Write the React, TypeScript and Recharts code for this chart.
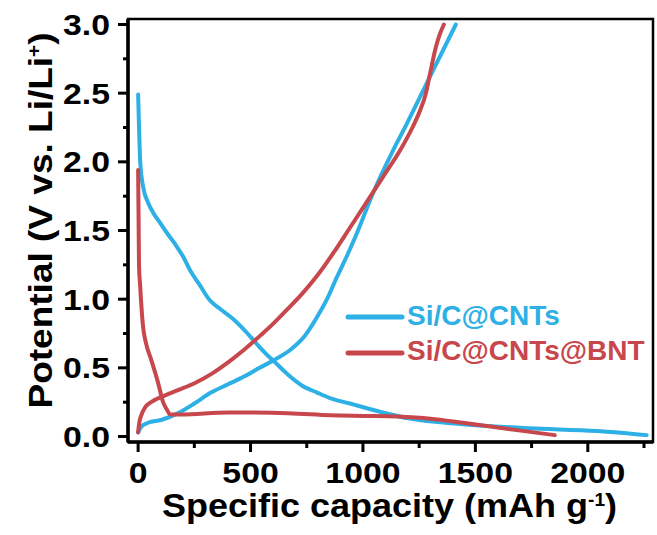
import React from "react";
import {
  LineChart,
  Line,
  XAxis,
  YAxis,
  Legend,
  ReferenceArea,
} from "recharts";

// ---- data ----
const blueDischargeX = [0, 5, 9, 22, 45, 67, 100, 129, 165, 200, 231, 275, 320, 364, 420, 476, 530, 570, 609, 667, 730, 796, 853, 942, 1076, 1209, 1444, 1742, 2040, 2262];
const blueDischargeY = [2.49, 2.2, 2.01, 1.82, 1.7, 1.63, 1.55, 1.48, 1.4, 1.31, 1.21, 1.1, 0.99, 0.93, 0.86, 0.77, 0.67, 0.6, 0.54, 0.45, 0.37, 0.32, 0.28, 0.24, 0.18, 0.13, 0.09, 0.06, 0.04, 0.01];

const blueChargeX = [0, 13, 44, 102, 178, 250, 324, 400, 476, 540, 609, 676, 740, 796, 840, 884, 930, 973, 1044, 1133, 1196, 1298, 1413];
const blueChargeY = [0.03, 0.07, 0.1, 0.12, 0.17, 0.24, 0.32, 0.38, 0.44, 0.5, 0.56, 0.63, 0.73, 0.87, 1.0, 1.16, 1.32, 1.48, 1.77, 2.08, 2.28, 2.62, 3.0];

const redDischargeX = [0, 2, 4, 9, 13, 22, 35, 58, 89, 111, 130, 142, 191, 400, 667, 853, 1000, 1151, 1300, 1444, 1667, 1853];
const redDischargeY = [1.94, 1.6, 1.24, 1.1, 0.99, 0.8, 0.68, 0.56, 0.39, 0.25, 0.19, 0.16, 0.16, 0.175, 0.17, 0.155, 0.15, 0.145, 0.13, 0.1, 0.05, 0.01];

const redChargeX = [0, 5, 13, 30, 58, 120, 180, 253, 330, 400, 470, 547, 600, 660, 730, 796, 870, 942, 1010, 1089, 1164, 1220, 1253, 1280, 1298, 1325, 1342, 1360];
const redChargeY = [0.03, 0.1, 0.15, 0.21, 0.25, 0.3, 0.34, 0.39, 0.46, 0.54, 0.63, 0.74, 0.82, 0.92, 1.04, 1.17, 1.34, 1.52, 1.69, 1.89, 2.08, 2.25, 2.37, 2.5, 2.64, 2.84, 2.93, 3.0];

const seriesNames = ["Si/C@CNTs", "Si/C@CNTs@BNT"];
const seriesColors = ["#2DB0E5", "#C8474C"];

const xTicks = [0, 250, 500, 750, 1000, 1250, 1500, 1750, 2000, 2250];
const yTicks = [0, 0.25, 0.5, 0.75, 1, 1.25, 1.5, 1.75, 2, 2.25, 2.5, 2.75, 3];
const xDomain = [-45, 2290];
const yDomain = [-0.04, 3.04];

const toPoints = (xs: number[], ys: number[]) => xs.map((x, i) => ({ x, y: ys[i] }));
const blueDischarge = toPoints(blueDischargeX, blueDischargeY);
const blueCharge = toPoints(blueChargeX, blueChargeY);
const redDischarge = toPoints(redDischargeX, redDischargeY);
const redCharge = toPoints(redChargeX, redChargeY);

const FONT = "'Liberation Sans', Arial, Helvetica, sans-serif";

const emWidth = (s: string) =>
  s.split("").reduce((a, c) => a + (c === "." ? 0.278 : 0.556), 0);

const XTick = (props: any) => {
  const { x, y, payload } = props;
  const v = payload.value;
  const major = v % 500 === 0;
  const label = String(v);
  return (
    <g>
      <line x1={x} x2={x} y1={y} y2={y + (major ? 10 : 6)} stroke="#000" strokeWidth={3} />
      {major && (
        <text
          x={x}
          y={y + 41}
          textAnchor="middle"
          fontFamily={FONT}
          fontWeight="bold"
          fontSize={30}
          fill="#000"
          textLength={emWidth(label) * 33.8}
          lengthAdjust="spacingAndGlyphs"
        >
          {label}
        </text>
      )}
    </g>
  );
};

const YTick = (props: any) => {
  const { x, y, payload } = props;
  const v = payload.value;
  const major = Math.abs(v * 2 - Math.round(v * 2)) < 1e-6;
  const label = v.toFixed(1);
  return (
    <g>
      <line x1={x} x2={x - (major ? 10 : 5)} y1={y} y2={y} stroke="#000" strokeWidth={3} />
      {major && (
        <text
          x={x - 18}
          y={y + 10.5}
          textAnchor="end"
          fontFamily={FONT}
          fontWeight="bold"
          fontSize={30}
          fill="#000"
          textLength={emWidth(label) * 33.8}
          lengthAdjust="spacingAndGlyphs"
        >
          {label}
        </text>
      )}
    </g>
  );
};

const XTitle = (props: any) => {
  const vb = props.viewBox || { x: 128, y: 442, width: 525, height: 93 };
  const cx = vb.x + vb.width / 2 - 1;
  const y = vb.y + 75;
  return (
    <text
      x={cx}
      y={y}
      textAnchor="middle"
      fontFamily={FONT}
      fontWeight="bold"
      fontSize={34}
      fill="#000"
      textLength={455}
      lengthAdjust="spacingAndGlyphs"
    >
      Specific capacity (mAh g
      <tspan dy={-11} fontSize={18}>-1</tspan>
      <tspan dy={11}>)</tspan>
    </text>
  );
};

const YTitle = (props: any) => {
  const vb = props.viewBox || { x: 0, y: 19, width: 128, height: 423 };
  const cy = vb.y + vb.height / 2 - 10;
  const cx = 52;
  return (
    <text
      x={cx}
      y={cy}
      transform={`rotate(-90, ${cx}, ${cy})`}
      textAnchor="middle"
      fontFamily={FONT}
      fontWeight="bold"
      fontSize={34}
      fill="#000"
      textLength={376}
      lengthAdjust="spacingAndGlyphs"
    >
      Potential (V vs. Li/Li
      <tspan dy={-12} fontSize={19}>+</tspan>
      <tspan dy={12}>)</tspan>
    </text>
  );
};

const LegendContent = () => (
  <svg width={310} height={70} style={{ overflow: "visible" }}>
    {seriesNames.map((name, i) => {
      const lineY = i === 0 ? 17 : 53;
      const baseY = i === 0 ? 25 : 60;
      return (
        <g key={name}>
          <line x1={8} x2={62} y1={lineY} y2={lineY} stroke={seriesColors[i]} strokeWidth={5} strokeLinecap="round" />
          <text
            x={67}
            y={baseY}
            fontFamily={FONT}
            fontWeight="bold"
            fontSize={28}
            fill={seriesColors[i]}
          >
            {name}
          </text>
        </g>
      );
    })}
  </svg>
);

export default function App() {
  return (
    <div style={{ position: "absolute", left: 0, top: 0, width: 657, height: 535, background: "#fff" }}>
      <LineChart width={657} height={535} margin={{ top: 19, right: 4, left: 0, bottom: 0 }}>
        <ReferenceArea
          x1={xDomain[0]}
          x2={xDomain[1]}
          y1={yDomain[0]}
          y2={yDomain[1]}
          fill="none"
          stroke="#000"
          strokeWidth={2.5}
          ifOverflow="visible"
        />
        <XAxis
          type="number"
          dataKey="x"
          domain={xDomain}
          ticks={xTicks}
          allowDataOverflow
          height={93}
          tickSize={0}
          tickMargin={0}
          tickLine={false}
          tick={<XTick />}
          axisLine={{ stroke: "#000", strokeWidth: 3.5 }}
          interval={0}
          label={<XTitle />}
        />
        <YAxis
          type="number"
          dataKey="y"
          domain={yDomain}
          ticks={yTicks}
          allowDataOverflow
          width={128}
          tickSize={0}
          tickMargin={0}
          tickLine={false}
          tick={<YTick />}
          axisLine={{ stroke: "#000", strokeWidth: 3.5 }}
          interval={0}
          label={<YTitle />}
        />
        <Line data={blueDischarge} dataKey="y" name={seriesNames[0]} type="monotone" stroke={seriesColors[0]} strokeWidth={4} dot={false} isAnimationActive={false} strokeLinecap="round" />
        <Line data={blueCharge} dataKey="y" name={seriesNames[0] + " charge"} legendType="none" type="monotone" stroke={seriesColors[0]} strokeWidth={4} dot={false} isAnimationActive={false} strokeLinecap="round" />
        <Line data={redDischarge} dataKey="y" name={seriesNames[1]} type="monotone" stroke={seriesColors[1]} strokeWidth={4} dot={false} isAnimationActive={false} strokeLinecap="round" />
        <Line data={redCharge} dataKey="y" name={seriesNames[1] + " charge"} legendType="none" type="monotone" stroke={seriesColors[1]} strokeWidth={4} dot={false} isAnimationActive={false} strokeLinecap="round" />
        <Legend
          layout="vertical"
          align="center"
          verticalAlign="middle"
          content={<LegendContent />}
          wrapperStyle={{ left: 340, top: 300, width: 310, height: 70 }}
        />
      </LineChart>
    </div>
  );
}
